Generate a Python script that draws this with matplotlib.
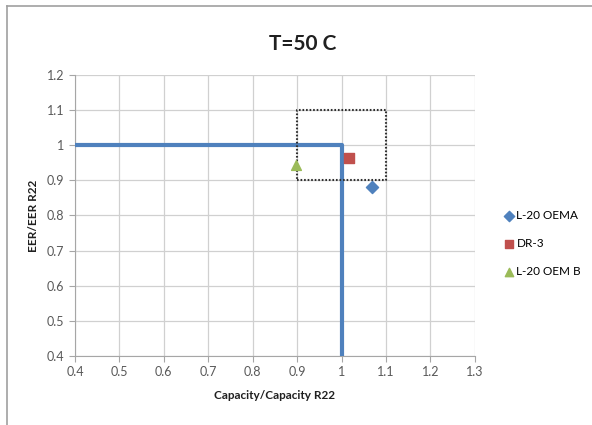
import matplotlib.pyplot as plt
from matplotlib.lines import Line2D

plt.rcParams['font.family'] = ['Lato', 'DejaVu Sans']

# data
series_names = ['L-20 OEMA', 'DR-3', 'L-20 OEM B']
cap_vals = [1.068, 1.017, 0.898]
eer_vals = [0.882, 0.964, 0.945]
markers = ['D', 's', '^']
colors = ['#4F81BD', '#C0504D', '#9BBB59']

# R22 reference line and +/-10% box
ref_x = [0.4, 1.0, 1.0]
ref_y = [1.0, 1.0, 0.4]
box_x = [0.9, 1.1, 1.1, 0.9, 0.9]
box_y = [0.9, 0.9, 1.1, 1.1, 0.9]

x_ticks = [0.4, 0.5, 0.6, 0.7, 0.8, 0.9, 1.0, 1.1, 1.2, 1.3]
x_labels = ['0.4', '0.5', '0.6', '0.7', '0.8', '0.9', '1', '1.1', '1.2', '1.3']
y_ticks = [0.4, 0.5, 0.6, 0.7, 0.8, 0.9, 1.0, 1.1, 1.2]
y_labels = ['0.4', '0.5', '0.6', '0.7', '0.8', '0.9', '1', '1.1', '1.2']

fig = plt.figure(figsize=(5.92, 4.25), dpi=100)
ax = fig.add_axes([0.1267, 0.1624, 0.6753, 0.6611])

# chart frame
fig.add_artist(Line2D([7/592, 7/592], [0, 1 - 6/425], color='#A0A0A0', lw=1.2))
fig.add_artist(Line2D([7/592, 1], [1 - 6/425, 1 - 6/425], color='#A0A0A0', lw=1.2))

ax.set_xlim(0.4, 1.3)
ax.set_ylim(0.4, 1.2)
ax.set_xticks(x_ticks)
ax.set_xticklabels(x_labels)
ax.set_yticks(y_ticks)
ax.set_yticklabels(y_labels)
ax.grid(True, color='#D0D0D0', lw=0.9)
ax.set_axisbelow(True)
for s in ['top', 'right']:
    ax.spines[s].set_visible(False)
for s in ['left', 'bottom']:
    ax.spines[s].set_color('#A6A6A6')
ax.tick_params(colors='#A6A6A6', labelcolor='#595959', labelsize=9, length=4)

ax.plot(ref_x, ref_y, color='#4F81BD', lw=3, solid_capstyle='butt', clip_on=False, zorder=3)
ax.plot(box_x, box_y, color='#303030', lw=1.5, ls=(0, (0.8, 0.9)), zorder=3)

for i in range(len(series_names)):
    ax.scatter(cap_vals[i], eer_vals[i], marker=markers[i], color=colors[i],
               s=50 if markers[i] != 'D' else 38, label=series_names[i], zorder=4)

ax.set_title('T=50 C', fontsize=15, fontweight='bold', color='#202020', pad=18, x=0.57)
ax.set_xlabel('Capacity/Capacity R22', fontsize=8.5, fontweight='bold', color='#202020', labelpad=8)
ax.set_ylabel('EER/EER R22', fontsize=8.5, fontweight='bold', color='#202020', labelpad=6)

ax.legend(loc='center left', bbox_to_anchor=(1.06, 0.40), frameon=False, fontsize=8.5,
          handletextpad=0.1, labelspacing=1.45, handlelength=1, borderaxespad=0,
          scatterpoints=1, markerscale=0.85)

fig.savefig('out.png', dpi=100)
